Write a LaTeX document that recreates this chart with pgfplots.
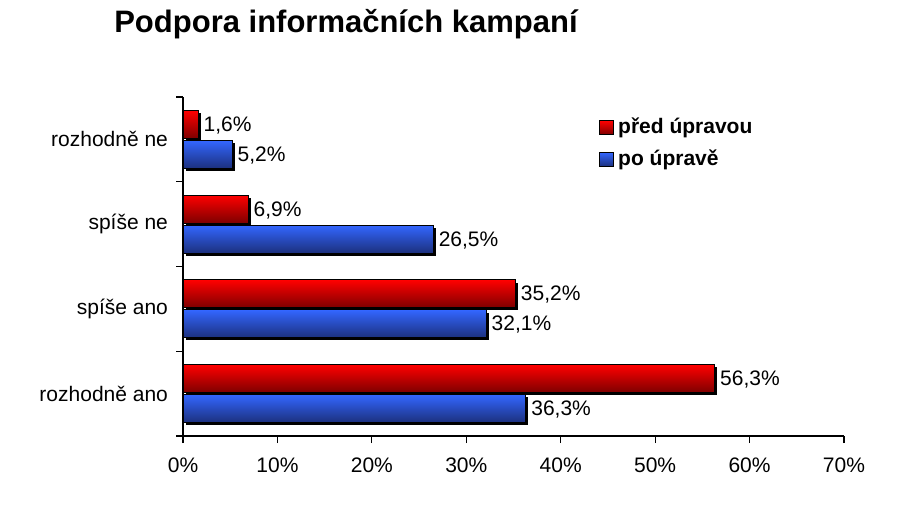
\documentclass[border=0pt]{standalone}
\usepackage{pgfplots}
\pgfplotsset{compat=1.18}
\usepackage{fontspec}
\setmainfont{Liberation Sans}
\definecolor{redtop}{RGB}{255,0,0}
\definecolor{redbot}{RGB}{125,0,0}
\definecolor{bluetop}{RGB}{51,102,255}
\definecolor{bluebot}{RGB}{28,48,125}
\pgfplotsset{
  lbl/.style={point meta=x,
    nodes near coords={\pgfmathprintnumber[fixed,fixed zerofill,precision=1,use comma]{\pgfplotspointmeta}\%},
    every node near coord/.append style={font=\fontsize{10.5}{12}\selectfont, xshift=-0.8pt, black, yshift=#1}},
  redbar/.style={xbar, draw=black, line width=0.5pt, top color=redtop, bottom color=redbot,
    bar shift=0.177, forget plot, lbl=7pt},
  bluebar/.style={xbar, draw=black, line width=0.5pt, top color=bluetop, bottom color=bluebot,
    bar shift=-0.177, forget plot, lbl=-8pt},
  redshadow/.style={xbar, fill=black, draw=none, bar shift=0.177, xshift=1.3pt, yshift=-1.3pt, forget plot},
  blueshadow/.style={xbar, fill=black, draw=none, bar shift=-0.177, xshift=1.3pt, yshift=-1.3pt, forget plot},
}
\begin{document}
\begin{tikzpicture}
\path[use as bounding box] (0,0) rectangle (450pt,255.5pt);
\node[font=\bfseries\fontsize{15.5}{18}\selectfont] at (173pt,243.5pt) {Podpora informačních kampaní};
\begin{axis}[
  at={(91.5pt,37.5pt)}, anchor=south west, scale only axis,
  width=330.5pt, height=169.5pt,
  xmin=0, xmax=70, ymin=-0.5, ymax=3.5,
  axis x line=bottom, axis y line=left,
  axis line style={-, black, line width=0.6pt},
  x axis line style={shorten <=-3pt},
  xtick={0,10,...,70},
  xticklabel={\pgfmathprintnumber{\tick}\%},
  ytick={-0.5,0.5,1.5,2.5,3.5},
  yticklabels={,,,,,},
  extra y ticks={0,1,2,3},
  extra y tick labels={rozhodně ano, spíše ano, spíše ne, rozhodně ne},
  extra y tick style={major tick length=0pt, yticklabel style={xshift=-4pt}},
  major tick length=3.5pt,
  tick align=outside,
  tick style={black, line width=0.6pt},
  /pgf/number format/assume math mode=true,
  ticklabel style={font=\fontsize{10.5}{12}\selectfont},
  xticklabel style={yshift=-4pt},
  bar width=0.33,
  legend style={draw=none, fill=none, at={(0.62,0.962)}, anchor=north west,
    font=\bfseries\fontsize{10.5}{12}\selectfont, row sep=2.5pt},
  legend cell align=left,
  legend image code/.code={\draw[#1] (0pt,-3.5pt) rectangle (7pt,3.5pt);},
  clip=false,
]
% shadows
\addplot[redshadow] coordinates {(56.3,0)};
\addplot[redshadow] coordinates {(35.2,1)};
\addplot[redshadow] coordinates {(6.9,2)};
\addplot[redshadow] coordinates {(1.6,3)};
\addplot[blueshadow] coordinates {(36.3,0)};
\addplot[blueshadow] coordinates {(32.1,1)};
\addplot[blueshadow] coordinates {(26.5,2)};
\addplot[blueshadow] coordinates {(5.2,3)};
% před úpravou
\addplot[redbar] coordinates {(56.3,0)};
\addplot[redbar] coordinates {(35.2,1)};
\addplot[redbar] coordinates {(6.9,2)};
\addplot[redbar] coordinates {(1.6,3)};
% po úpravě
\addplot[bluebar] coordinates {(36.3,0)};
\addplot[bluebar] coordinates {(32.1,1)};
\addplot[bluebar] coordinates {(26.5,2)};
\addplot[bluebar] coordinates {(5.2,3)};
\addlegendimage{draw=black, line width=0.5pt, top color=redtop, bottom color=redbot}
\addlegendentry{před úpravou}
\addlegendimage{draw=black, line width=0.5pt, top color=bluetop, bottom color=bluebot}
\addlegendentry{po úpravě}
\end{axis}
\end{tikzpicture}
\end{document}
